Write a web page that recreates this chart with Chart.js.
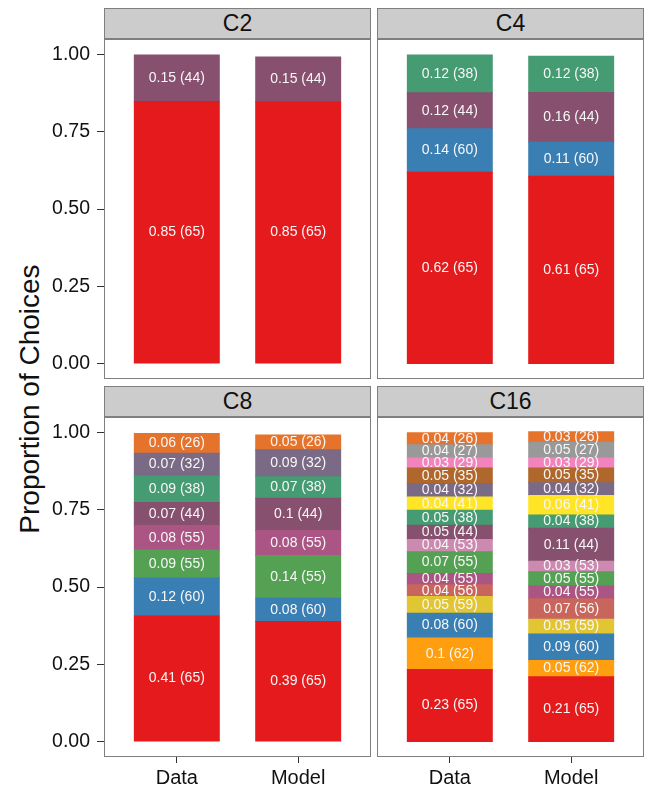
<!DOCTYPE html>
<html>
<head>
<meta charset="utf-8">
<title>Proportion of Choices</title>
<script src="https://cdn.jsdelivr.net/npm/chart.js@4/dist/chart.umd.min.js"></script>
<style>
  body { margin: 0; background: #fff; font-family: "Liberation Sans", Arial, sans-serif; }
  #page { position: relative; width: 647px; height: 790px; overflow: hidden; }
  canvas { position: absolute; }
  .strip {
    position: absolute; box-sizing: border-box; height: 31px; width: 267px;
    background: #cccccc; border: 1px solid #7f7f7f;
    font-size: 23px; line-height: 29px; text-align: center; color: #111;
  }
  #ytitle {
    position: absolute; left: 30px; top: 399px; width: 400px; margin-left: -200px;
    text-align: center; font-size: 28px; line-height: 32px; margin-top: -16px;
    transform: rotate(-90deg); color: #111; white-space: nowrap;
  }
</style>
</head>
<body>
<div id="page">
  <div class="strip" style="left:104px;top:8px">C2</div>
  <div class="strip" style="left:377px;top:8px">C4</div>
  <div class="strip" style="left:104px;top:386px">C8</div>
  <div class="strip" style="left:377px;top:386px">C16</div>
  <div id="ytitle">Proportion of Choices</div>
  <canvas id="c2" width="371" height="340" style="left:0;top:39px"></canvas>
  <canvas id="c4" width="267" height="340" style="left:377px;top:39px"></canvas>
  <canvas id="c8" width="371" height="373" style="left:0;top:417px"></canvas>
  <canvas id="c16" width="267" height="373" style="left:377px;top:417px"></canvas>
</div>
<script>
const categories = ['Data', 'Model']
const yTicks = [0, 0.25, 0.5, 0.75, 1]

// stacks from bottom to top, ids are the option labels in brackets
const c2Ids = [65, 44]
const c2Data = [0.848, 0.15]
const c2Model = [0.846, 0.146]

const c4Ids = [65, 60, 44, 38]
const c4Data = [0.619, 0.141, 0.116, 0.122]
const c4Model = [0.606, 0.11, 0.161, 0.117]

const c8Ids = [65, 60, 55, 55, 44, 38, 32, 26]
const c8Data = [0.406, 0.123, 0.091, 0.079, 0.074, 0.086, 0.074, 0.064]
const c8Model = [0.388, 0.076, 0.138, 0.081, 0.104, 0.07, 0.087, 0.048]

const c16Ids = [65, 62, 60, 59, 56, 55, 55, 53, 44, 38, 41, 32, 35, 29, 27, 26]
const c16Data = [0.233, 0.102, 0.080, 0.054, 0.038, 0.037, 0.07, 0.04, 0.046, 0.048, 0.043, 0.044, 0.05, 0.032, 0.043, 0.039]
const c16Model = [0.21, 0.052, 0.086, 0.048, 0.066, 0.041, 0.046, 0.034, 0.107, 0.043, 0.063, 0.041, 0.048, 0.032, 0.051, 0.034]

const red = '#e41a1c', blue = '#3a7fb3', green = '#54a153', magenta = '#aa5583',
  purple = '#87506f', teal = '#459b72', greyPurple = '#7b6a86', orange = '#e6732b',
  orange2 = '#ff9f10', yellow = '#e2c532', salmon = '#c8665e', pink = '#cc8ab0',
  yellow2 = '#ffe526', brown = '#b0672b', pink2 = '#f283bc', grey = '#999999'

const c2Colors = [red, purple]
const c4Colors = [red, blue, purple, teal]
const c8Colors = [red, blue, green, magenta, purple, teal, greyPurple, orange]
const c16Colors = [red, orange2, blue, yellow, salmon, magenta, green, pink, purple, teal, yellow2, greyPurple, brown, pink2, grey, orange]

const fontFamily = '"Liberation Sans", Arial, sans-serif'

const frame = {
  id: 'frame',
  afterDraw(chart) {
    const {ctx, chartArea: a} = chart
    ctx.save()
    ctx.strokeStyle = '#7f7f7f'
    ctx.lineWidth = 1
    ctx.strokeRect(a.left + 0.5, a.top + 0.5, a.width - 1, a.height - 1)
    ctx.restore()
  }
}

const barLabels = {
  id: 'barLabels',
  afterDatasetsDraw(chart) {
    const ctx = chart.ctx
    ctx.save()
    ctx.fillStyle = '#f7f7f7'
    ctx.font = '14px ' + fontFamily
    ctx.textAlign = 'center'
    ctx.textBaseline = 'middle'
    chart.data.datasets.forEach((ds, i) => {
      chart.getDatasetMeta(i).data.forEach((bar, j) => {
        const {x, y, base} = bar.getProps(['x', 'y', 'base'], true)
        const v = Math.round(ds.data[j].y * 100) / 100
        ctx.fillText(v + ' (' + ds.optionId + ')', x, (y + base) / 2)
      })
    })
    ctx.restore()
  }
}

function panel(id, ids, dataVals, modelVals, colors, showX, showY) {
  new Chart(document.getElementById(id), {
    type: 'bar',
    data: {
      datasets: ids.map((optionId, i) => ({
        optionId,
        data: [{x: 1, y: dataVals[i]}, {x: 2, y: modelVals[i]}],
        backgroundColor: colors[i],
        borderWidth: 0,
        inflateAmount: 0.5,
        categoryPercentage: 1,
        barPercentage: 0.7
      }))
    },
    options: {
      responsive: false,
      animation: false,
      layout: {padding: 0},
      plugins: {legend: {display: false}, tooltip: {enabled: false}},
      scales: {
        x: {
          type: 'linear', min: 0.4, max: 2.6, stacked: true, display: showX,
          offset: false, bounds: 'data',
          afterBuildTicks: ax => { ax.ticks = [{value: 1}, {value: 2}] },
          afterFit: ax => {
            if (showX) ax.height = 33
            ax.paddingLeft = 0
            ax.paddingRight = 0
          },
          ticks: {
            callback: v => categories[v - 1],
            font: {family: fontFamily, size: 20}, color: '#111',
            padding: 3, autoSkip: false, maxRotation: 0
          },
          grid: {drawOnChartArea: false, offset: false, tickLength: 6, color: '#333'},
          border: {display: false}
        },
        y: {
          type: 'linear', min: -0.05, max: 1.05, stacked: true, display: showY,
          bounds: 'data',
          afterBuildTicks: ax => { ax.ticks = yTicks.map(value => ({value})) },
          afterFit: ax => {
            if (showY) ax.width = 104
            ax.paddingTop = 0
            ax.paddingBottom = 0
          },
          ticks: {
            callback: v => v.toFixed(2),
            font: {family: fontFamily, size: 19.5}, color: '#111', padding: 7
          },
          grid: {drawOnChartArea: false, tickLength: 7, color: '#333'},
          border: {display: false}
        }
      }
    },
    plugins: [frame, barLabels]
  })
}

panel('c2', c2Ids, c2Data, c2Model, c2Colors, false, true)
panel('c4', c4Ids, c4Data, c4Model, c4Colors, false, false)
panel('c8', c8Ids, c8Data, c8Model, c8Colors, true, true)
panel('c16', c16Ids, c16Data, c16Model, c16Colors, true, false)
</script>
</body>
</html>
